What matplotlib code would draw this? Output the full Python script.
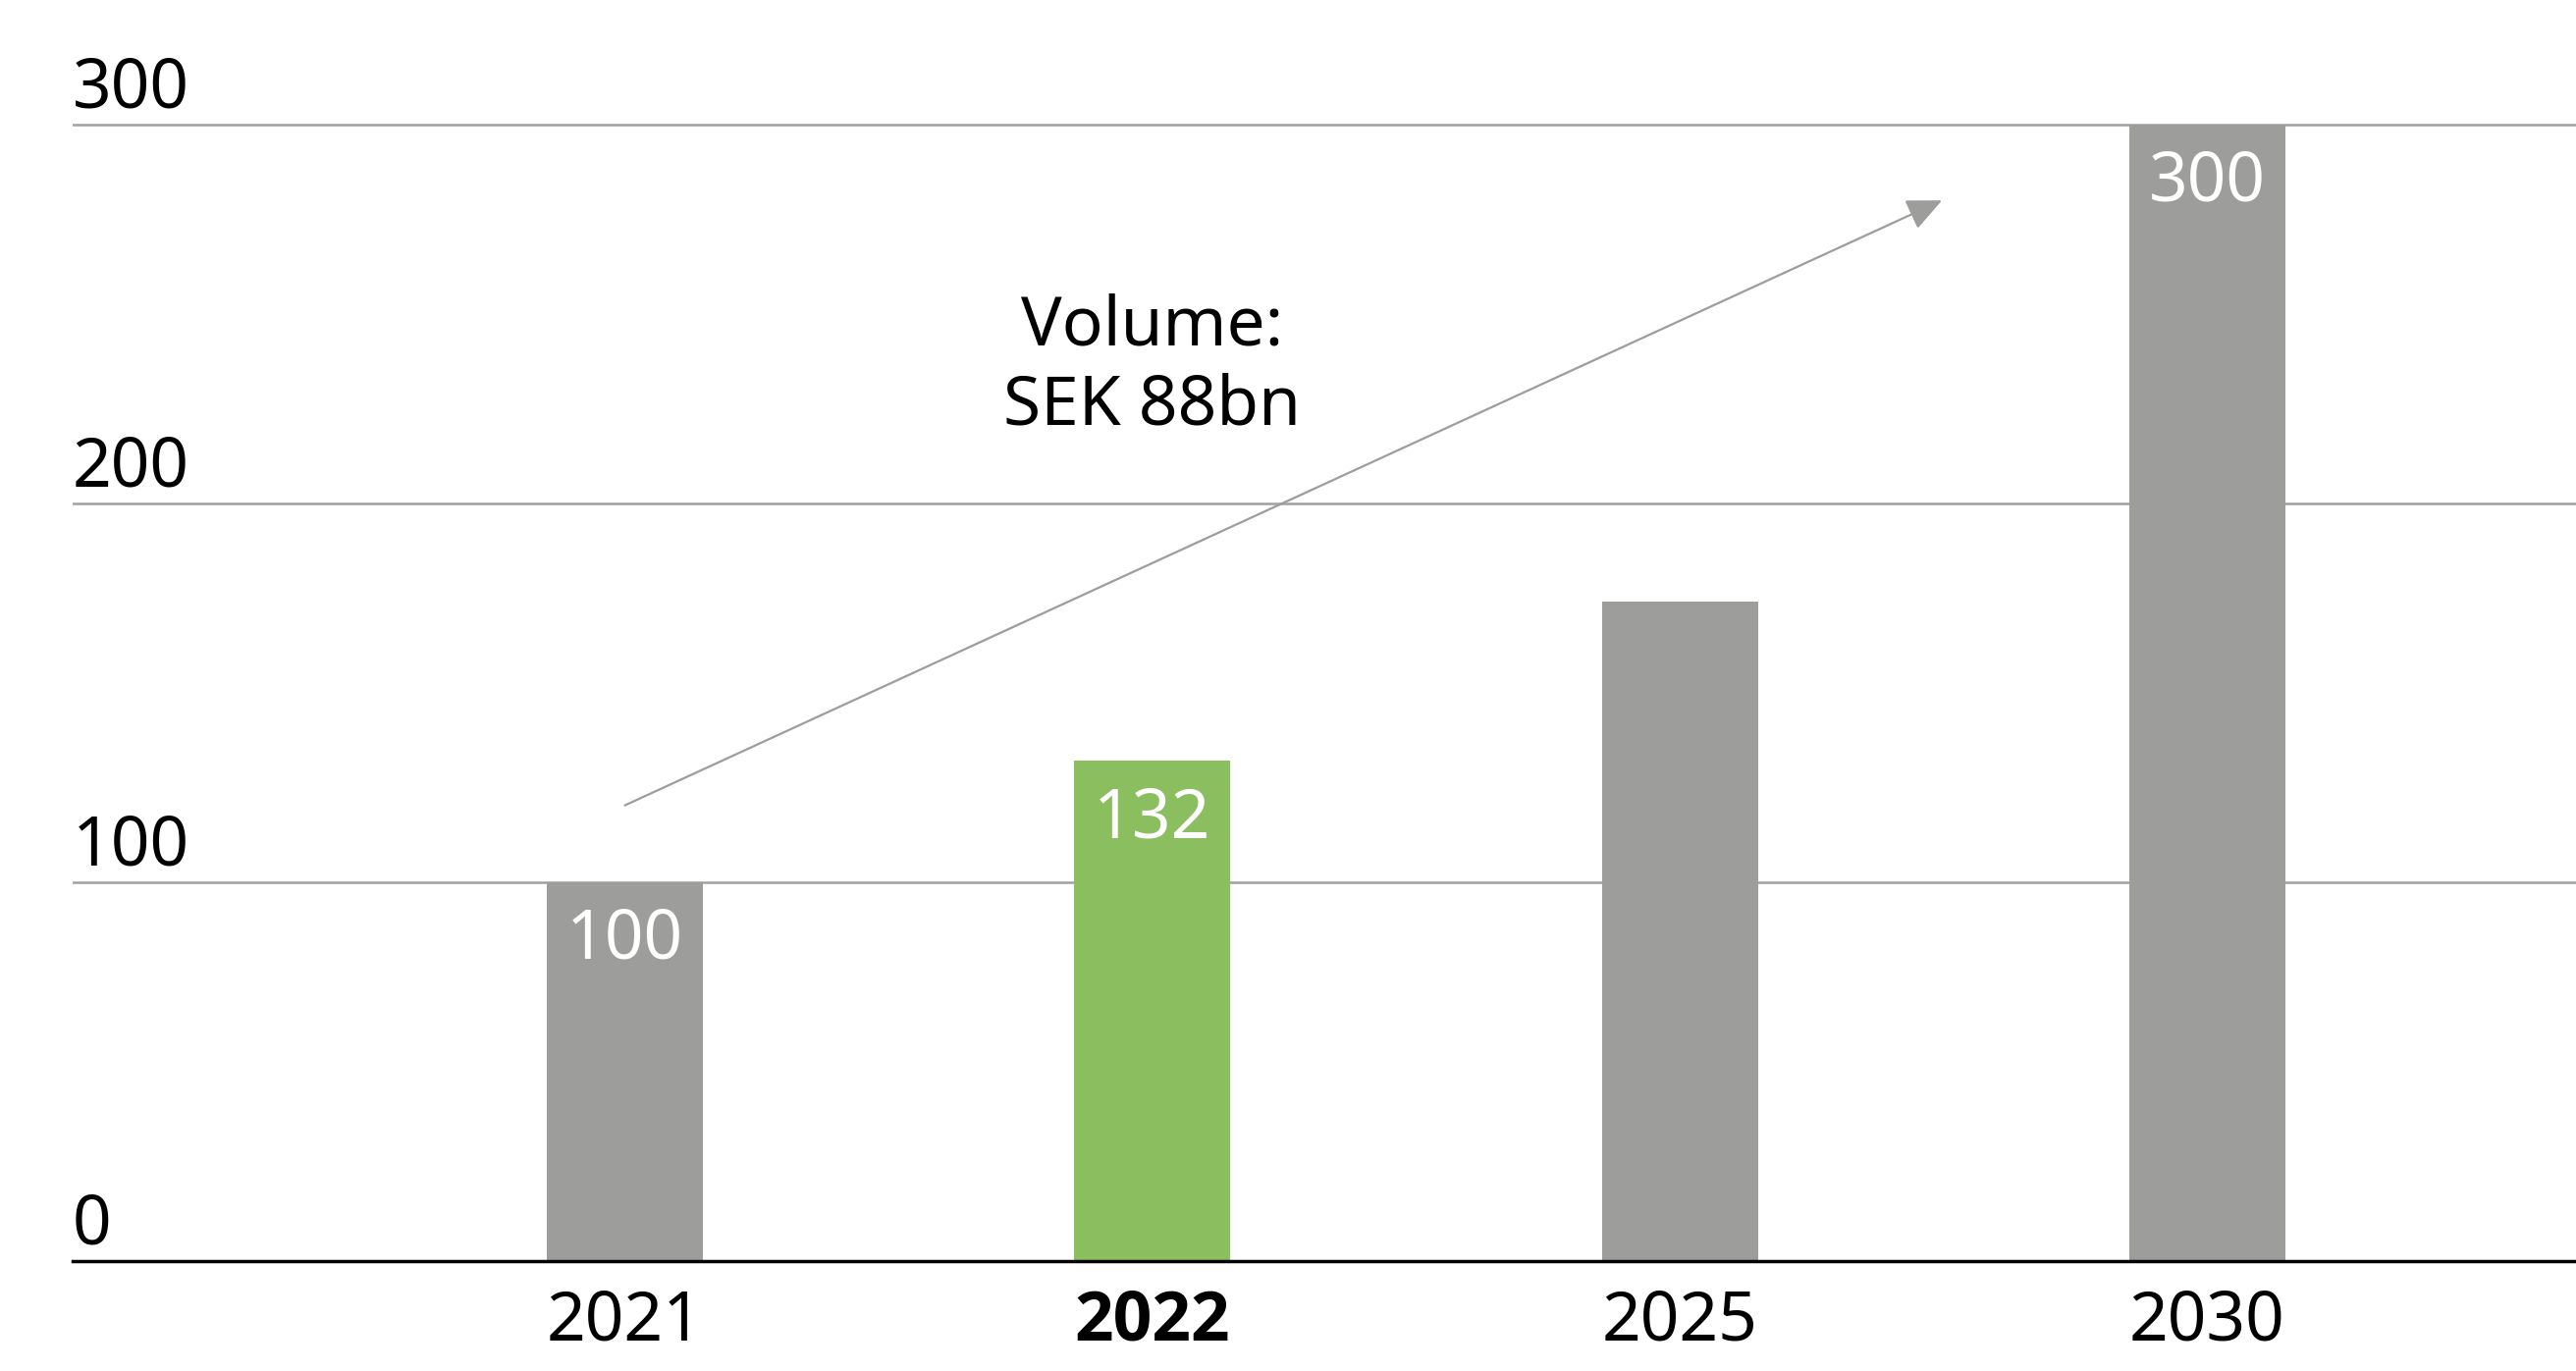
import matplotlib
matplotlib.use("Agg")
import matplotlib.pyplot as plt
import numpy as np

years = ["2021", "2022", "2025", "2030"]
values = [100, 132, 174, 300]
labels = ["100", "132", "", "300"]
bar_colors = ["#9d9d9c", "#8bbe5f", "#9d9d9c", "#9d9d9c"]
yticks = [0, 100, 200, 300]

plt.rcParams['font.family'] = ['Noto Sans', 'DejaVu Sans']

fig = plt.figure(figsize=(26.24, 13.97), dpi=100)
ax = fig.add_axes([0.0282, 0.0802, 0.9718, 0.9118])

x = np.arange(len(years))
bars = ax.bar(x, values, width=0.296, color=bar_colors, zorder=2)

ax.set_xlim(-1.047, 3.699)
ax.set_ylim(0, 330)

# gridlines + y labels sitting above them
for t in yticks[1:]:
    ax.axhline(t, color="#a0a0a0", lw=1.8, zorder=1)
for t in yticks:
    ax.text(0, t, str(t), transform=ax.get_yaxis_transform(),
            ha="left", va="bottom", fontsize=50, color="black")
ax.set_yticks([])

for s in ["left", "right", "top"]:
    ax.spines[s].set_visible(False)
ax.spines["bottom"].set_linewidth(2.5)
ax.spines["bottom"].set_color("black")
ax.spines["bottom"].set_zorder(3)

ax.set_xticks(x)
ax.set_xticklabels(years, fontsize=50)
ax.tick_params(axis="x", length=0, pad=20)
bold = ax.get_xticklabels()[1]
bold.set_fontfamily(["Open Sans", "DejaVu Sans"])
bold.set_fontweight("bold")

# value labels inside bars
for b, lab in zip(bars, labels):
    if lab:
        ax.annotate(lab, (b.get_x() + b.get_width() / 2, b.get_height()),
                    xytext=(0, -18), textcoords="offset points",
                    ha="center", va="top", fontsize=50, color="white", zorder=4)

# growth arrow
ax.annotate("", xy=(2.497, 280), xytext=(0.0, 120.3),
            arrowprops=dict(arrowstyle="-|>,head_length=2.2,head_width=1.0",
                            color="#9d9d9c", lw=1.6, shrinkA=0, shrinkB=0))
ax.text(1.0, 236, "Volume:\nSEK 88bn", ha="center", va="center",
        fontsize=50, color="black", linespacing=1.2)

fig.savefig("out.png", dpi=100)
